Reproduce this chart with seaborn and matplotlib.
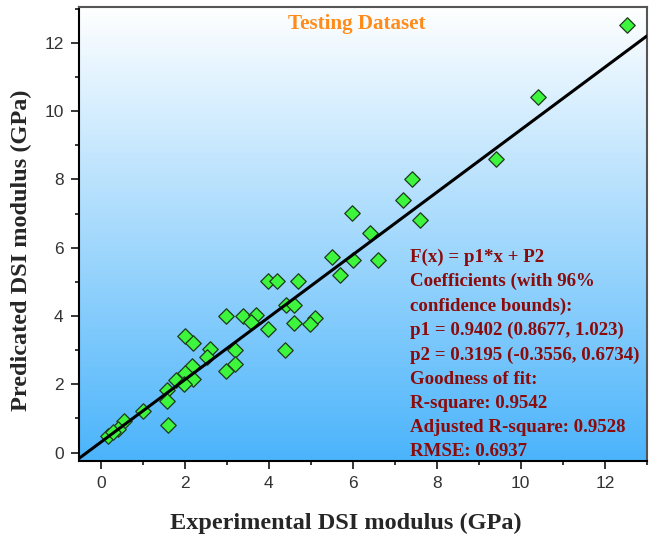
import numpy as np
import pandas as pd
import seaborn as sns
import matplotlib.pyplot as plt
from matplotlib.colors import LinearSegmentedColormap
from matplotlib.ticker import MultipleLocator

# experimental vs predicted DSI modulus (GPa)
experimental = [12.52, 10.40, 9.41, 7.40, 7.20, 7.60, 5.99, 6.40, 5.51, 6.00, 6.60, 5.70,
                3.98, 4.20, 4.69, 4.40, 4.59, 2.99, 3.38, 3.70, 3.58, 3.98, 4.59, 5.09,
                4.98, 4.38, 2.00, 2.20, 2.60, 2.52, 3.19, 3.19, 2.99, 2.18, 2.00, 2.20,
                1.78, 1.97, 1.57, 1.57, 1.60, 1.00, 0.56, 0.40, 0.18, 0.30]
predicted = [12.52, 10.41, 8.60, 8.01, 7.41, 6.81, 7.03, 6.43, 5.72, 5.63, 5.63, 5.20,
             5.02, 5.02, 5.02, 4.32, 4.32, 4.01, 4.00, 4.02, 3.82, 3.61, 3.81, 3.93,
             3.77, 3.01, 3.42, 3.21, 3.04, 2.80, 3.01, 2.59, 2.40, 2.54, 2.33, 2.17,
             2.12, 2.00, 1.83, 1.51, 0.80, 1.23, 0.93, 0.68, 0.48, 0.60]

# slope / intercept of the black line as drawn in the figure
line_slope = 0.915
line_intercept = 0.305

fit_lines = ["F(x) = p1*x + P2",
             "Coefficients (with 96%",
             "confidence bounds):",
             "p1 = 0.9402 (0.8677, 1.023)",
             "p2 = 0.3195 (-0.3556, 0.6734)",
             "Goodness of fit:",
             "R-square: 0.9542",
             "Adjusted R-square: 0.9528",
             "RMSE: 0.6937"]

df = pd.DataFrame({'exp': experimental, 'pred': predicted})

sns.set_style("ticks")
serif = 'Liberation Serif'
sans = 'Liberation Sans'

fig = plt.figure(figsize=(6.58, 5.4), dpi=100)
ax = fig.add_subplot(111)
fig.subplots_adjust(left=0.120, right=0.983, top=0.987, bottom=0.146)

xlim = (-0.52, 13.0)
ylim = (-0.25, 13.05)

# white (top) -> blue (bottom) gradient background
cmap = LinearSegmentedColormap.from_list('bg', ['#ffffff', '#4bb4fb'])
grad = np.linspace(0, 1, 256).reshape(-1, 1)
ax.imshow(grad, cmap=cmap, aspect='auto', extent=[xlim[0], xlim[1], ylim[0], ylim[1]],
          zorder=0, origin='upper')

sns.scatterplot(data=df, x='exp', y='pred', marker='D', s=62, color='#3cf53c',
                edgecolor='#1f3a1f', linewidth=0.9, ax=ax, zorder=3)

line_x = np.array(xlim)
line_df = pd.DataFrame({'x': line_x, 'y': line_slope * line_x + line_intercept})
sns.lineplot(data=line_df, x='x', y='y', color='black', lw=2.2, ax=ax, zorder=4)
ax.set_xlim(xlim)
ax.set_ylim(ylim)

ax.text(0.49, 0.963, 'Testing Dataset', transform=ax.transAxes, ha='center', va='center',
        color='#ff8c1a', fontsize=15.2, fontweight='bold', family=serif)
ax.text(0.583, 0.468, '\n'.join(fit_lines), transform=ax.transAxes, ha='left', va='top',
        color='#8b0a0a', fontsize=13.6, fontweight='bold', family=serif, linespacing=1.54,
        zorder=5)

ax.xaxis.set_major_locator(MultipleLocator(2))
ax.xaxis.set_minor_locator(MultipleLocator(1))
ax.yaxis.set_major_locator(MultipleLocator(2))
ax.yaxis.set_minor_locator(MultipleLocator(1))
ax.tick_params(which='major', length=6, width=1.1, color='black', labelsize=12.5,
               labelcolor='#333333', pad=5)
ax.tick_params(which='minor', length=3, width=1.1, color='black')
for lab in ax.get_xticklabels() + ax.get_yticklabels():
    lab.set_family(sans)

for side in ['left', 'bottom']:
    ax.spines[side].set_color('black')
    ax.spines[side].set_linewidth(1.5)
for side in ['top', 'right']:
    ax.spines[side].set_color('#555555')
    ax.spines[side].set_linewidth(1.5)

ax.set_xlabel('Experimental DSI modulus (GPa)', fontsize=17.5, fontweight='bold',
              family=serif)
ax.set_ylabel('Predicated DSI modulus (GPa)', fontsize=17.5, fontweight='bold',
              family=serif)
ax.xaxis.set_label_coords(0.47, -0.113)
ax.yaxis.set_label_coords(-0.083, 0.465)

plt.savefig('out.png', dpi=100)
plt.close()
